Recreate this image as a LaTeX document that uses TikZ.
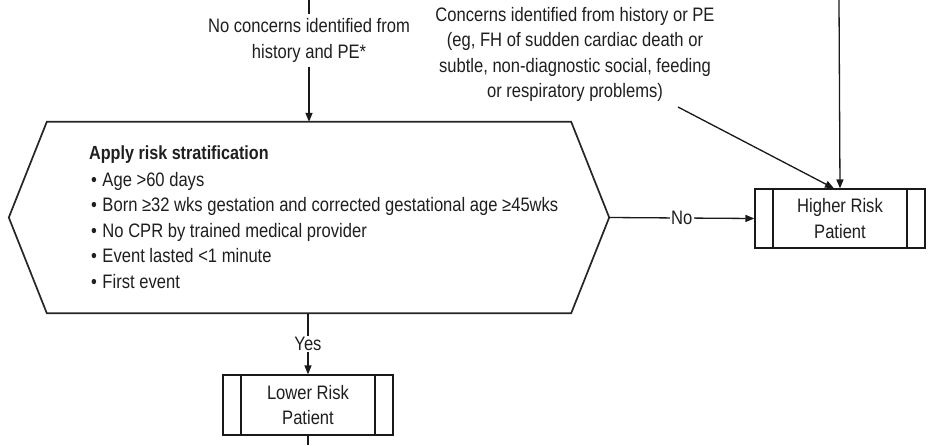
\documentclass[tikz,border=0pt]{standalone}
\usepackage{fontspec}
\setmainfont{Liberation Sans}[FakeStretch=0.85]
\usetikzlibrary{arrows.meta}
\tikzset{
  txt/.style={font=\fontsize{19.5}{25.5}\selectfont, text=black!88, inner sep=1pt},
  lbl/.style={txt, fill=white, inner sep=1.5pt},
  arr/.style={draw=black!90, line width=1.3pt, -{Triangle[length=9pt,width=7pt]}},
  conn/.style={draw=black!90, line width=1.3pt},
  hexline/.style={draw=black!85, line width=1.7pt, line join=miter},
  procbox/.style={draw=black!90, line width=1.2pt, minimum width=170pt, inner sep=0pt,
    txt, align=center,
    path picture={
      \draw[black!90, line width=1.2pt] ([xshift=18pt]path picture bounding box.north west) -- ([xshift=18pt]path picture bounding box.south west);
      \draw[black!90, line width=1.2pt] ([xshift=-18pt]path picture bounding box.north east) -- ([xshift=-18pt]path picture bounding box.south east);
    }},
  bul/.style={txt, anchor=base west}
}
\begin{document}
\begin{tikzpicture}[x=1pt, y=-1pt]
\useasboundingbox[fill=white] (0,0) rectangle (943,445);

% hexagon decision
\node[minimum width=600pt, minimum height=191pt, inner sep=0pt] (hex) at (309,217.5) {};
\draw[hexline] ([xshift=38pt]hex.north west) -- ([xshift=-38pt]hex.north east) -- (hex.east)
  -- ([xshift=-38pt]hex.south east) -- ([xshift=38pt]hex.south west) -- (hex.west) -- cycle;

\node[bul, font=\fontsize{19}{25.5}\selectfont\bfseries] (h0) at (88,159.5) {Apply risk stratification};
\node[bul] (b1) at (90,186) {•\hspace{5.5pt}Age >60 days};
\node[bul] (b2) at (90,211.5) {•\hspace{5.5pt}Born ≥32 wks gestation and corrected gestational age ≥45wks};
\node[bul] (b3) at (90,237) {•\hspace{5.5pt}No CPR by trained medical provider};
\node[bul] (b4) at (90,262.5) {•\hspace{5.5pt}Event lasted <1 minute};
\node[bul] (b5) at (90,288.5) {•\hspace{5.5pt}First event};

% top texts
\coordinate (top) at (309,0);
\node[txt, align=center, inner ysep=4pt] (nc) at (309,40.5) {No concerns identified from\\history and PE*};
\node[txt, align=center] (cn) at (575,54.5) {Concerns identified from history or PE\\(eg, FH of sudden cardiac death or\\subtle, non-diagnostic social, feeding\\or respiratory problems)};

% boxes
\node[procbox, minimum height=59pt] (hr) at (840,218.5) {Higher Risk\\Patient};
\node[procbox, minimum height=60pt] (lr) at (308,405) {Lower Risk\\Patient};

% connectors
\draw[conn] (top) -- (nc.north);
\draw[arr] (nc.south) -- (hex.north);
\coordinate (tr) at (839,0);
\draw[arr] (tr) -- (hr.north);
\coordinate (d1) at (678,107);
\draw[arr] (d1) -- ([xshift=-6pt]hr.north);
\draw[arr] (hex.east) -- node[lbl] (no) {No} (hr.west);
\draw[arr] (hex.south -| lr.north) -- node[lbl] (yes) {Yes} (lr.north);
\coordinate (bot) at (308,445);
\draw[conn] (lr.south) -- (bot);
\end{tikzpicture}
\end{document}
